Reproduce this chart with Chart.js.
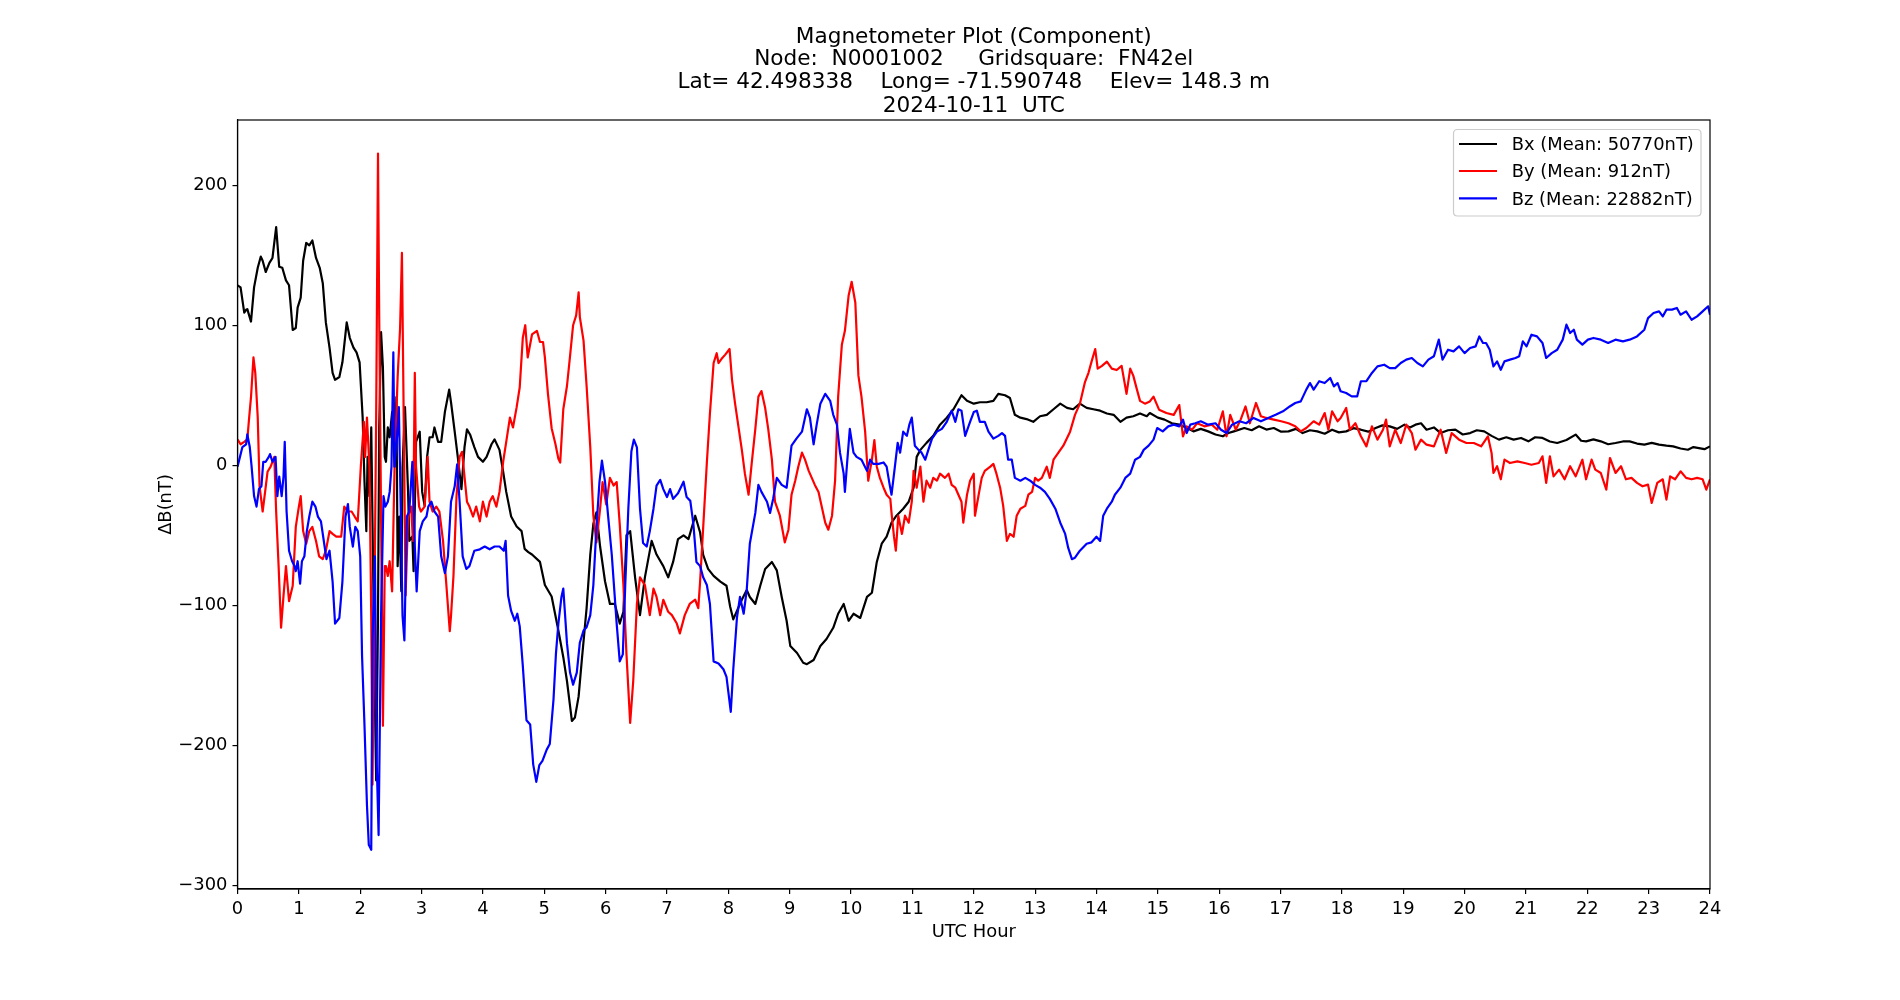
<!DOCTYPE html>
<html>
<head>
<meta charset="utf-8">
<script src="https://cdn.jsdelivr.net/npm/chart.js@4.4.1/dist/chart.umd.min.js"></script>
<style>
html,body{margin:0;padding:0;background:#fff;}
#wrap{width:1900px;height:1000px;}
</style>
</head>
<body>
<div id="wrap"><canvas id="c" width="1900" height="1000"></canvas></div>
<script>
const titleLines = ["Magnetometer Plot (Component)", "Node:  N0001002     Gridsquare:  FN42el", "Lat= 42.498338    Long= -71.590748    Elev= 148.3 m", "2024-10-11  UTC"];
const xAxisTitle = "UTC Hour";
const yAxisTitle = "\u0394B(nT)";
const seriesNames = ["Bx (Mean: 50770nT)", "By (Mean: 912nT)", "Bz (Mean: 22882nT)"];
const xTicks = [0,1,2,3,4,5,6,7,8,9,10,11,12,13,14,15,16,17,18,19,20,21,22,23,24];
const yTicks = [-300,-200,-100,0,100,200];

const bxHours = [0,0.05,0.11,0.14,0.16,0.22,0.27,0.33,0.38,0.41,0.46,0.52,0.57,0.63,0.68,0.73,0.79,0.84,0.90,0.95,0.98,1.03,1.07,1.12,1.17,1.22,1.28,1.34,1.39,1.44,1.50,1.55,1.59,1.66,1.71,1.78,1.83,1.89,1.94,1.99,2.04,2.07,2.10,2.12,2.15,2.18,2.21,2.23,2.26,2.29,2.31,2.34,2.37,2.40,2.42,2.45,2.48,2.52,2.56,2.59,2.61,2.64,2.67,2.69,2.73,2.78,2.80,2.85,2.87,2.91,2.97,3.01,3.05,3.09,3.13,3.18,3.21,3.27,3.32,3.38,3.45,3.48,3.54,3.59,3.65,3.70,3.74,3.79,3.86,3.92,4.00,4.06,4.14,4.19,4.27,4.33,4.38,4.46,4.55,4.63,4.68,4.74,4.80,4.93,5.01,5.12,5.23,5.31,5.37,5.45,5.50,5.56,5.61,5.69,5.75,5.80,5.85,5.91,5.99,6.07,6.15,6.23,6.29,6.34,6.40,6.48,6.56,6.64,6.75,6.83,6.94,7.02,7.10,7.18,7.27,7.35,7.46,7.54,7.59,7.67,7.76,7.87,7.97,8.03,8.08,8.14,8.22,8.30,8.35,8.44,8.52,8.60,8.71,8.79,8.87,8.95,9.01,9.12,9.22,9.28,9.39,9.50,9.60,9.71,9.79,9.88,9.96,10.04,10.15,10.26,10.34,10.42,10.50,10.58,10.66,10.74,10.85,10.94,11.02,11.07,11.13,11.23,11.34,11.45,11.56,11.67,11.80,11.89,12.0,12.10,12.21,12.32,12.40,12.51,12.59,12.67,12.76,12.86,12.97,13.08,13.19,13.30,13.41,13.52,13.62,13.73,13.84,13.95,14.06,14.17,14.28,14.39,14.49,14.60,14.71,14.82,14.87,15.0,15.11,15.23,15.35,15.46,15.58,15.70,15.82,15.94,16.06,16.15,16.24,16.41,16.53,16.65,16.77,16.89,17.01,17.13,17.25,17.36,17.48,17.60,17.72,17.84,17.95,18.07,18.19,18.31,18.43,18.55,18.66,18.78,18.90,19.02,19.11,19.20,19.29,19.38,19.50,19.61,19.73,19.85,19.97,20.09,20.20,20.32,20.44,20.56,20.68,20.80,20.92,21.04,21.15,21.27,21.39,21.51,21.66,21.81,21.90,21.98,22.10,22.22,22.34,22.46,22.58,22.69,22.81,22.93,23.05,23.17,23.29,23.40,23.52,23.64,23.73,23.82,23.91,24.0];
const bxValues = [128.5,127,109,111,111.5,102.6,127,141,149,146,138,144.5,148,170,141.7,141,132,128.5,96.6,98,112.6,119.7,146,158.7,157,160.5,148,141,130,102,84,66,61,63,73.5,102,91,84,80.6,73.5,34,-12,-47,6,-22,27,-72,-143,-225,-108,27,95,70,6,2.5,27,20,38,-1,48.6,-72,-36.6,-90,-1,41.5,-19,-54,-50.8,-75.6,16.7,24,-19,-29,6,20,20,27,16.7,16.7,38,54,45,24,6,-17,13,25.6,22,13,6,2.5,6,15,18.5,11,-4.6,-19,-36.6,-43.7,-47,-59.7,-62,-63.7,-69,-85.5,-93.7,-118,-137,-154,-182.5,-180,-165,-140,-102,-63.7,-41.8,-33.6,-58,-82.8,-99,-99,-113,-104.6,-50,-47,-80,-107,-80,-54,-63.7,-72,-80,-69,-52.7,-50,-52.7,-36,-48,-64,-74,-79,-83,-86,-101,-110,-104,-96,-89,-94,-99,-86,-74,-69,-75,-94,-111,-129,-134,-141,-142,-139,-129,-124,-116,-106,-99,-111,-106,-109,-94,-91,-69,-56,-51,-41,-36,-31,-26,-16,6,11,16,21,29,34,40,50,46,44,45,45,46,51,50,48,36,34,33,31,35,36,40,44,41,40,44,41,40,39,37,36,31,34,35,37,35,37.3,34,32.6,30,29,27,24.2,26,24.2,22,20.7,23,24.2,26.6,25,27.8,25.5,26.6,24,24.2,26,23,25,24.2,22.5,25.4,23.5,24.2,26.5,25.4,24,26.6,28.5,27.8,26,29,27,29,30,25.4,27,23,25,25.4,22,23,25,24.2,21,18.3,20,18.3,19.5,17.1,20,19.5,17,15.9,18,21.9,17.5,17.1,18.5,17.1,15,15.9,17,17.1,15.5,14.7,16,14.7,14,13.5,12,11.1,13,12.3,11.5,13.5];

const byHours = [0,0.05,0.11,0.16,0.19,0.22,0.26,0.29,0.33,0.36,0.41,0.45,0.49,0.54,0.60,0.63,0.67,0.71,0.75,0.79,0.84,0.90,0.95,1.00,1.03,1.07,1.12,1.17,1.22,1.28,1.33,1.39,1.44,1.50,1.55,1.61,1.69,1.74,1.80,1.86,1.91,1.96,2.01,2.06,2.08,2.11,2.15,2.18,2.20,2.23,2.26,2.29,2.31,2.34,2.37,2.40,2.42,2.45,2.48,2.52,2.56,2.61,2.65,2.68,2.70,2.74,2.78,2.83,2.86,2.89,2.91,2.96,2.99,3.05,3.10,3.13,3.18,3.24,3.29,3.35,3.40,3.46,3.48,3.52,3.57,3.62,3.66,3.70,3.74,3.78,3.84,3.89,3.95,4.00,4.06,4.11,4.16,4.22,4.27,4.33,4.38,4.44,4.49,4.55,4.60,4.65,4.69,4.73,4.80,4.88,4.93,4.98,5.01,5.06,5.12,5.18,5.23,5.26,5.31,5.37,5.42,5.47,5.52,5.56,5.58,5.64,5.69,5.75,5.80,5.85,5.91,5.95,6.01,6.07,6.13,6.18,6.23,6.29,6.34,6.40,6.45,6.51,6.56,6.64,6.72,6.78,6.83,6.89,6.94,7.02,7.08,7.16,7.21,7.29,7.37,7.46,7.51,7.54,7.59,7.65,7.70,7.76,7.81,7.84,7.89,7.95,8.02,8.06,8.11,8.16,8.22,8.27,8.33,8.38,8.44,8.49,8.54,8.60,8.65,8.71,8.76,8.84,8.92,8.98,9.03,9.09,9.14,9.20,9.25,9.31,9.36,9.41,9.47,9.52,9.58,9.63,9.69,9.74,9.79,9.85,9.90,9.96,10.01,10.07,10.12,10.17,10.23,10.28,10.34,10.38,10.42,10.47,10.53,10.58,10.64,10.66,10.70,10.73,10.77,10.83,10.88,10.94,10.99,11.02,11.07,11.13,11.18,11.23,11.29,11.34,11.40,11.45,11.53,11.59,11.64,11.70,11.75,11.80,11.83,11.89,11.94,12.0,12.02,12.08,12.13,12.18,12.27,12.32,12.37,12.43,12.48,12.54,12.59,12.65,12.70,12.76,12.84,12.89,12.95,13.0,13.05,13.11,13.19,13.24,13.30,13.38,13.46,13.57,13.65,13.73,13.81,13.87,13.92,13.98,14.02,14.09,14.17,14.25,14.33,14.41,14.49,14.55,14.60,14.66,14.71,14.79,14.87,14.93,15.02,15.14,15.26,15.35,15.41,15.47,15.56,15.64,15.76,15.88,15.97,16.06,16.12,16.18,16.27,16.35,16.43,16.50,16.60,16.68,16.77,16.89,17.01,17.13,17.24,17.33,17.42,17.54,17.63,17.72,17.78,17.84,17.93,17.98,18.07,18.13,18.22,18.31,18.40,18.49,18.58,18.67,18.72,18.78,18.87,18.96,19.05,19.14,19.20,19.29,19.38,19.50,19.61,19.70,19.79,19.91,20.03,20.15,20.27,20.38,20.44,20.47,20.53,20.59,20.65,20.74,20.86,20.98,21.09,21.21,21.27,21.33,21.39,21.45,21.54,21.63,21.72,21.81,21.92,21.98,22.07,22.13,22.22,22.31,22.37,22.46,22.55,22.63,22.72,22.81,22.90,22.99,23.05,23.14,23.23,23.29,23.35,23.43,23.52,23.61,23.70,23.79,23.88,23.94,24.0];
const byValues = [18.5,15,16.7,18.5,34,48.6,77,66,34,-15,-33,-19,-4.6,-1,6,-33,-72,-116,-93,-72,-97,-86,-44,-29.5,-22,-47,-56,-47,-44,-54,-65,-67,-61,-47,-49,-51,-51,-29.5,-33,-33,-36.6,-40,-1,31,6,34,-1,-107.6,-228,-107.6,34,222.6,105,-36.6,-186,-72,-72,-79,-68.5,-90,-1,63,98,151.6,70,-93,-36.6,-29.5,-54,66,-1,-29.5,-33,-29.5,6,-26,-33,-29.5,-33,-54,-83,-118.5,-107.6,-79,-22,6,9.6,-8,-26,-29.5,-36.6,-29.5,-40,-26,-36.6,-26,-22,-29.5,-19,2.5,16.7,34,27,41.5,55.7,91,100,77,93.4,96,88,88,77,51,26.5,15.6,4.6,2,40,56.6,78,100,107,123.5,105.7,89,56.6,12.8,-36,-55,-31,-12,-28,-9,-14.5,-12,-42,-85.5,-135,-184,-154,-99,-80,-85.5,-107,-88,-94,-107,-96,-104.6,-107,-113,-120,-107,-99,-96,-102,-83,-44.5,2,37,73,80,73,76,79,83,61,44,29,11,-6,-21,1,26,49,53,41,26,4,-26,-36,-55,-46,-21,-11,-1,9,4,-4,-9,-14,-19,-29,-41,-46,-36,-11,49,86,96,121,131,116,64,49,24,-11,4,18,-1,-9,-16,-21,-24,-34,-51,-61,-36,-49,-36,-41,-26,-4,-16,-1,-26,-11,-16,-9,-11,-6,-9,-6,-14,-16,-21,-26,-41,-21,-11,-6,-36,-21,-9,-4,-1,1,-6,-16,-29,-54,-49,-51,-36,-31,-29,-21,-19,-9,-11,-9,-1,-9,4,9,14,24,36,44,59,66,74,83,69,71,74,69,68,71,51,69,64,54,46,44,45.6,49,39.7,37.3,36,43,20.7,27.8,25.4,30,27.8,29,25.4,38.5,20.7,36,25.4,32.6,42,30,44.5,35,33.8,32.6,31.4,30,27.8,24.2,26.6,31.4,29,37.3,25.4,38.5,31.4,33.8,40.9,25.4,30,20.7,13.5,27.8,18.3,25.4,32.6,13.5,25.4,15.9,29,23,11.1,18.3,14.7,13.5,25.4,8.8,23,18.3,15.9,15.9,13.5,20.7,8.8,-5.5,-0.7,-10,4,1.6,2.8,1.6,0.4,1.6,6.4,-12.6,6.4,-7.9,-3.1,-10,-0.7,-7.9,4,-10,4,-3.1,-5.5,-17.4,5.2,-5.5,-0.7,-10,-9,-12.6,-15,-13.8,-26.9,-12.6,-10,-24.5,-7.9,-10,-4.3,-9,-10,-9,-10,-17.4,-10];

const bzHours = [0,0.04,0.08,0.14,0.16,0.20,0.23,0.27,0.31,0.35,0.39,0.42,0.46,0.51,0.53,0.57,0.62,0.65,0.68,0.72,0.75,0.77,0.80,0.84,0.89,0.93,0.95,0.98,1.02,1.05,1.09,1.13,1.17,1.22,1.27,1.31,1.36,1.42,1.45,1.50,1.55,1.59,1.66,1.71,1.76,1.80,1.83,1.88,1.92,1.96,2.00,2.03,2.07,2.11,2.14,2.18,2.20,2.24,2.27,2.30,2.34,2.38,2.41,2.45,2.48,2.51,2.54,2.56,2.60,2.63,2.66,2.69,2.72,2.76,2.80,2.85,2.89,2.92,2.97,3.02,3.08,3.11,3.16,3.21,3.27,3.32,3.38,3.43,3.48,3.54,3.58,3.62,3.67,3.73,3.78,3.86,3.95,4.03,4.11,4.19,4.27,4.34,4.37,4.41,4.46,4.52,4.56,4.60,4.65,4.71,4.77,4.82,4.87,4.92,4.97,5.04,5.09,5.15,5.19,5.23,5.28,5.31,5.37,5.42,5.47,5.53,5.58,5.64,5.69,5.75,5.80,5.85,5.90,5.94,5.99,6.04,6.10,6.18,6.23,6.28,6.32,6.37,6.42,6.46,6.51,6.56,6.61,6.67,6.72,6.78,6.83,6.89,6.94,7.00,7.05,7.10,7.18,7.27,7.32,7.38,7.43,7.48,7.54,7.59,7.65,7.70,7.76,7.84,7.92,7.97,8.04,8.08,8.14,8.19,8.25,8.30,8.35,8.44,8.49,8.54,8.63,8.68,8.73,8.79,8.87,8.95,9.03,9.11,9.20,9.28,9.33,9.39,9.44,9.50,9.58,9.66,9.71,9.77,9.82,9.88,9.90,9.94,9.98,10.04,10.09,10.17,10.26,10.31,10.36,10.45,10.53,10.58,10.63,10.66,10.72,10.76,10.80,10.85,10.91,10.95,10.99,11.04,11.10,11.15,11.21,11.26,11.32,11.40,11.48,11.56,11.64,11.70,11.75,11.80,11.86,11.94,12.0,12.05,12.10,12.18,12.24,12.32,12.40,12.46,12.51,12.56,12.62,12.67,12.76,12.84,12.92,13.0,13.08,13.16,13.24,13.33,13.41,13.49,13.54,13.60,13.65,13.73,13.84,13.92,14.0,14.06,14.11,14.17,14.25,14.30,14.39,14.47,14.55,14.63,14.71,14.77,14.85,14.93,14.99,15.08,15.17,15.26,15.35,15.41,15.47,15.53,15.61,15.70,15.82,15.94,16.03,16.12,16.21,16.33,16.44,16.56,16.68,16.80,16.92,17.04,17.15,17.24,17.33,17.42,17.48,17.54,17.63,17.72,17.81,17.87,17.93,17.98,18.07,18.16,18.25,18.31,18.40,18.49,18.58,18.69,18.78,18.87,18.96,19.05,19.14,19.23,19.32,19.41,19.50,19.58,19.64,19.73,19.82,19.91,20.0,20.09,20.18,20.24,20.30,20.35,20.41,20.47,20.53,20.59,20.65,20.74,20.83,20.89,20.95,21.01,21.09,21.18,21.27,21.33,21.42,21.51,21.60,21.66,21.72,21.78,21.83,21.92,22.01,22.10,22.22,22.34,22.46,22.58,22.69,22.81,22.93,22.99,23.08,23.17,23.23,23.29,23.38,23.46,23.52,23.61,23.70,23.79,23.88,23.97,24.0];
const bzValues = [-1,6,13,15,22,13,-1,-22,-29.5,-17,-15,2.5,2.5,6,8,2.5,6,-22,-8,-22,-8,16.7,-33,-61,-68.5,-72,-75.6,-68.5,-84.5,-68.5,-65,-47,-36.6,-26,-29.5,-36.6,-40,-58,-67,-61,-83,-113,-109,-83,-36.6,-27.7,-44,-58,-44,-47,-65,-136,-186,-242.5,-271,-274.5,-125,-65,-214,-264,-107.6,-22,-29.5,-26,-19,-1,80.6,-1,20,41.5,-29.5,-107.6,-125,-36.6,-33,2.5,-58,-90,-47,-40,-36.6,-29.5,-26,-33,-36.6,-65,-77,-65,-26,-15,0.7,-26,-65,-74,-72,-61,-60,-58,-60,-58,-58,-61,-54,-93,-104,-111,-106,-115,-143,-182,-185,-213.7,-226,-214,-211,-203,-199,-167.5,-134.7,-113,-94,-88,-127,-148,-156.6,-148,-126.5,-118,-115.6,-107,-85.5,-44.5,-11.7,3.3,-11.7,-36,-63.7,-113,-140,-135,-85.5,-31,10,18.3,12.8,-31,-55.5,-58,-47,-31,-14.5,-10.4,-17,-22.7,-17,-24,-20,-11.7,-22.7,-25.4,-41.8,-69,-72,-80,-85.5,-99,-140,-141.5,-145.6,-151,-176,-146,-109,-94,-106,-89,-56,-34,-14,-19,-26,-34,-24,-9,-14,-16,14,19,24,40,34,15,29,44,51,46,36,29,9,-6,-19,4,26,9,6,4,-4,4,1,1,2,-1,-14,-21,1,16,9,24,21,29,34,14,11,9,4,11,19,24,26,31,39,31,40,39,21,31,38,39,31,31,24,19,21,23,21,4,4,-9,-11,-9,-11,-14,-16,-19,-24,-31,-41,-49,-59,-67,-66,-61,-56,-55,-51,-54,-36,-31,-26,-21,-16,-9,-6,4,6,11,14,18.3,26.6,24.2,27.8,29,27.8,32.6,23,29,30,31.4,29,30,25.4,23,29,31.4,30,33.8,31.4,33.8,36,38.5,42,44.5,45.6,54,58.7,54,60,58.7,62.3,56.3,58.7,52.8,51.6,49.2,49.2,60,60,65.9,70.6,71.8,69.4,69.4,73,75.4,76.6,73,70.6,75.4,77.8,89.7,75.4,82.5,81.3,84.9,80.1,83.7,84.9,92,87.3,87.3,82.5,70.6,74.2,68.2,74.2,75.4,76.6,77.8,88.5,84.9,93.2,92,87.3,76.6,80.1,82.5,89.7,100.4,94.4,96.8,89.7,86.1,89.7,90.9,89.7,87.3,89.7,88.5,89.7,92,96.8,105.1,108.7,109.9,106.3,111.1,111.1,112.3,107.5,109.9,103.9,106.3,109.9,113.5,107.5];

const toPts = (hs, vs) => hs.map((h, i) => ({x: h, y: vs[i]}));
const FONT = "'DejaVu Sans', 'Liberation Sans', sans-serif";
const FS = 17.9;

const decor = {
  id: 'decor',
  afterDraw(chart) {
    const ctx = chart.ctx;
    const a = chart.chartArea;
    const cx = (a.left + a.right) / 2;
    const cy = (a.top + a.bottom) / 2;
    ctx.save();
    ctx.strokeStyle = '#000';
    ctx.lineWidth = 1.2;
    ctx.strokeRect(a.left, a.top, a.right - a.left, a.bottom - a.top);
    ctx.fillStyle = '#000';
    ctx.textAlign = 'center';
    ctx.textBaseline = 'alphabetic';
    ctx.font = "21.6px " + FONT;
    const baselines = [42.7, 65.3, 87.9, 111.5];
    titleLines.forEach((t, i) => ctx.fillText(t, cx, baselines[i]));
    ctx.font = FS + "px " + FONT;
    ctx.fillText(xAxisTitle, cx, 936.9);
    ctx.save();
    ctx.translate(170.9, cy);
    ctx.rotate(-Math.PI / 2);
    ctx.fillText(yAxisTitle, 0, 0);
    ctx.restore();
    const lx = 1453.5, ly = 129.5, lw = 247.5, lh = 86.5, r = 4;
    ctx.beginPath();
    ctx.moveTo(lx + r, ly);
    ctx.lineTo(lx + lw - r, ly);
    ctx.quadraticCurveTo(lx + lw, ly, lx + lw, ly + r);
    ctx.lineTo(lx + lw, ly + lh - r);
    ctx.quadraticCurveTo(lx + lw, ly + lh, lx + lw - r, ly + lh);
    ctx.lineTo(lx + r, ly + lh);
    ctx.quadraticCurveTo(lx, ly + lh, lx, ly + lh - r);
    ctx.lineTo(lx, ly + r);
    ctx.quadraticCurveTo(lx, ly, lx + r, ly);
    ctx.closePath();
    ctx.fillStyle = 'rgba(255,255,255,0.8)';
    ctx.fill();
    ctx.strokeStyle = '#cccccc';
    ctx.lineWidth = 1.2;
    ctx.stroke();
    const rows = [144, 171, 198.3];
    ctx.textAlign = 'left';
    chart.data.datasets.forEach((d, i) => {
      ctx.strokeStyle = d.borderColor;
      ctx.lineWidth = 2.2;
      ctx.beginPath();
      ctx.moveTo(1459, rows[i]);
      ctx.lineTo(1497, rows[i]);
      ctx.stroke();
      ctx.fillStyle = '#000';
      ctx.fillText(d.label, 1511.7, rows[i] + 6.4);
    });
    ctx.restore();
  }
};

new Chart(document.getElementById('c'), {
  type: 'line',
  data: {
    datasets: [
      {label: seriesNames[0], data: toPts(bxHours, bxValues), borderColor: '#000000', order: 3},
      {label: seriesNames[1], data: toPts(byHours, byValues), borderColor: '#ff0000', order: 2},
      {label: seriesNames[2], data: toPts(bzHours, bzValues), borderColor: '#0000ff', order: 1}
    ]
  },
  options: {
    responsive: false,
    devicePixelRatio: 1,
    animation: false,
    events: [],
    datasets: {line: {borderWidth: 2.2, pointRadius: 0, tension: 0, fill: false, borderJoinStyle: 'round'}},
    layout: {padding: {left: 0, top: 120, right: 190, bottom: 0}},
    plugins: {legend: {display: false}, title: {display: false}, tooltip: {enabled: false}},
    scales: {
      x: {
        type: 'linear', min: 0, max: 24,
        afterBuildTicks: s => { s.ticks = xTicks.map(v => ({value: v})); },
        afterFit: s => { s.height = 111; },
        grid: {display: true, drawOnChartArea: false, drawTicks: true, tickLength: 5, color: '#000', lineWidth: 1.2},
        border: {display: true, color: '#000', width: 1.2},
        ticks: {color: '#000', font: {family: FONT, size: FS}, padding: 5, maxRotation: 0, autoSkip: false}
      },
      y: {
        type: 'linear', min: -302.5, max: 246.5,
        afterBuildTicks: s => { s.ticks = yTicks.map(v => ({value: v})); },
        afterFit: s => { s.width = 237.5; },
        grid: {display: true, drawOnChartArea: false, drawTicks: true, tickLength: 5, color: '#000', lineWidth: 1.2},
        border: {display: true, color: '#000', width: 1.2},
        ticks: {color: '#000', font: {family: FONT, size: FS}, padding: 5,
          callback: v => (v < 0 ? '\u2212' + Math.abs(v) : String(v))}
      }
    }
  },
  plugins: [decor]
});
</script>
</body>
</html>
